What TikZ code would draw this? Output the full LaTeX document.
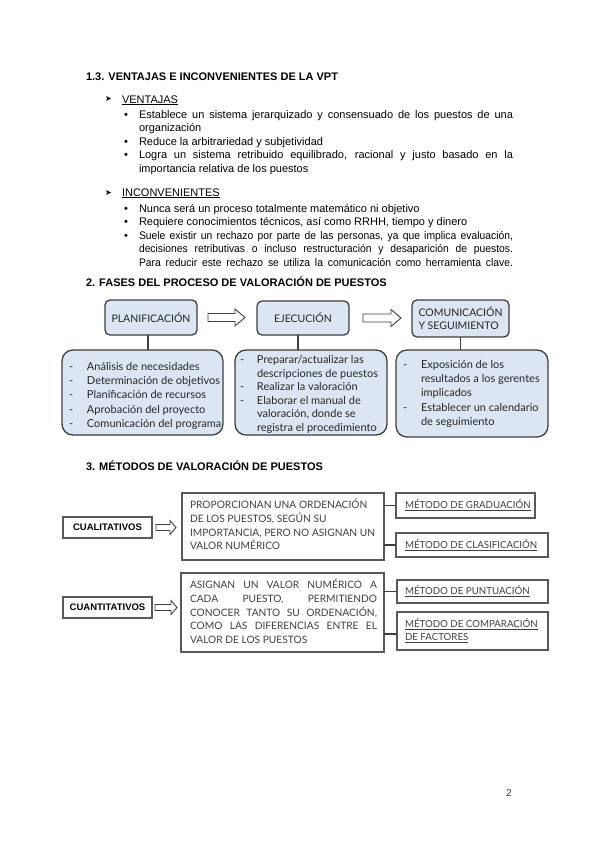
\documentclass[tikz,border=0pt]{standalone}
\usepackage{fontspec}
\setmainfont{Liberation Sans}
\newfontfamily\boxfont{Lato}
\newfontfamily\dejavu{DejaVu Sans}
\usetikzlibrary{calc}
\definecolor{boxblue}{HTML}{DCE6F2}
\definecolor{boxline}{HTML}{3F3F3F}
\definecolor{boxtxt}{HTML}{262626}
\definecolor{mtxt}{HTML}{404040}
\definecolor{mline}{HTML}{595959}
\newcommand{\myjust}[1]{\makebox[374pt][s]{#1}}
\newcommand{\mycond}[1]{\makebox[374pt][s]{\addfontfeature{FakeStretch=0.94}#1}}
\begin{document}
\begin{tikzpicture}[x=1pt,y=-1pt,
  every node/.style={inner sep=0pt,outer sep=0pt},
  head/.style={anchor=base west,font=\fontsize{11}{13}\selectfont\bfseries},
  body/.style={anchor=base west,font=\fontsize{11}{13.5}\selectfont},
  arr/.style={anchor=base west,font=\dejavu\fontsize{8}{9}\selectfont},
  phasebox/.style={draw=boxline,line width=1.3pt,fill=boxblue,rounded corners=5pt,
    font=\boxfont\fontsize{10.5}{13}\selectfont,text=boxtxt,align=left},
  listbox/.style={draw=boxline,line width=1.3pt,fill=boxblue,rounded corners=11pt},
  listtxt/.style={anchor=base west,font=\boxfont\fontsize{11}{14.2}\selectfont,text=boxtxt},
  link/.style={draw=boxline,line width=1.6pt},
  harrow/.style={draw=boxline,line width=0.9pt,fill=white,line join=miter},
  mbox/.style={draw=mline,line width=1.2pt,fill=white},
  mtext/.style={anchor=base west,font=\boxfont\fontsize{10.2}{13.75}\selectfont,text=mtxt},
  mtitle/.style={anchor=west,font=\boxfont\fontsize{9.7}{12}\selectfont,text=mtxt,align=left},
  kind/.style={font=\fontsize{9.5}{11}\selectfont\bfseries,text=black},
  mlink/.style={draw=boxline,line width=1.4pt},
]
\useasboundingbox (0,0) rectangle (599,848);
\fill[white] (0,0) rectangle (599,848);

% ---------- Section 1.3 ----------
\node[head] (h13) at (86,81) {1.3. VENTAJAS E INCONVENIENTES DE LA VPT};

\node[arr] (av) at (105,102) {➤};
\node[body] (vt) at (122,103) {\underline{VENTAJAS}};
\node[body] (vb1) at (124,118) {•};
\node[body] (v1a) at (139,118) {\myjust{Establece un sistema jerarquizado y consensuado de los puestos de una}};
\node[body] (v1b) at (139,131.5) {organización};
\node[body] (vb2) at (124,145) {•};
\node[body] (v2) at (139,145) {Reduce la arbitrariedad y subjetividad};
\node[body] (vb3) at (124,158.5) {•};
\node[body] (v3a) at (139,158.5) {\myjust{Logra un sistema retribuido equilibrado, racional y justo basado en la}};
\node[body] (v3b) at (139,172) {importancia relativa de los puestos};

\node[arr] (ai) at (105,195) {➤};
\node[body] (it) at (122,196) {\underline{INCONVENIENTES}};
\node[body] (ib1) at (124,212) {•};
\node[body] (i1) at (139,212) {Nunca será un proceso totalmente matemático ni objetivo};
\node[body] (ib2) at (124,225.5) {•};
\node[body] (i2) at (139,225.5) {Requiere conocimientos técnicos, así como RRHH, tiempo y dinero};
\node[body] (ib3) at (124,239) {•};
\node[body] (i3a) at (139,239) {\mycond{Suele existir un rechazo por parte de las personas, ya que implica evaluación,}};
\node[body] (i3b) at (139,252.5) {\mycond{decisiones retributivas o incluso restructuración y desaparición de puestos.}};
\node[body] (i3c) at (139,266) {\mycond{Para reducir este rechazo se utiliza la comunicación como herramienta clave.}};

% ---------- Section 2 ----------
\node[head] (h2) at (86,286) {2. FASES DEL PROCESO DE VALORACIÓN DE PUESTOS};

\node[phasebox,minimum width=92pt,minimum height=35pt] (p1) at (151,317.5) {PLANIFICACIÓN};
\node[phasebox,minimum width=92pt,minimum height=34pt] (p2) at (303,318) {EJECUCIÓN};
\node[phasebox,minimum width=97pt,minimum height=37pt] (p3) at (460.5,318.5) {COMUNICACIÓN\\Y SEGUIMIENTO};

\draw[harrow] ($(p1.east)+(11,-4)$) -- ++(27,0) -- ++(0,-4.5) -- ++(10,8.5) -- ++(-10,8.5) -- ++(0,-4.5) -- ++(-27,0) -- cycle;
\draw[harrow] ($(p2.east)+(14,-4)$) -- ++(28,0) -- ++(0,-4.5) -- ++(10,8.5) -- ++(-10,8.5) -- ++(0,-4.5) -- ++(-28,0) -- cycle;

\node[listbox,minimum width=161pt,minimum height=85pt] (l1) at (142.5,392.5) {};
\node[listbox,minimum width=152pt,minimum height=85pt] (l2) at (311,392.5) {};
\node[listbox,minimum width=152pt,minimum height=87pt] (l3) at (472,393.5) {};

\draw[link] ([xshift=-3pt]p1.south) -- ([xshift=-3pt]p1.south |- l1.north);
\draw[link] ([xshift=-5pt]p2.south) -- ([xshift=-5pt]p2.south |- l2.north);
\draw[link] (p3.south) -- (p3.south |- l3.north);

\node[listtxt] (t1) at (69,370.5) {\begin{tabular}[t]{@{}p{18pt}@{}l@{}}
-&Análisis de necesidades\\
-&Determinación de objetivos\\
-&Planificación de recursos\\
-&Aprobación del proyecto\\
-&Comunicación del programa
\end{tabular}};
\node[listtxt,font=\boxfont\fontsize{11}{13.6}\selectfont] (t2) at (240,363.5) {\begin{tabular}[t]{@{}p{17pt}@{}l@{}}
-&Preparar/actualizar las\\
&descripciones de puestos\\
-&Realizar la valoración\\
-&Elaborar el manual de\\
&valoración, donde se\\
&registra el procedimiento
\end{tabular}};
\node[listtxt] (t3) at (403,368.5) {\begin{tabular}[t]{@{}p{18pt}@{}l@{}}
-&Exposición de los\\
&resultados a los gerentes\\
&implicados\\
-&Establecer un calendario\\
&de seguimiento
\end{tabular}};

% ---------- Section 3 ----------
\node[head] (h3) at (86,470) {3. MÉTODOS DE VALORACIÓN DE PUESTOS};

\node[mbox,kind,minimum width=89pt,minimum height=21pt] (cual) at (107.5,527.5) {CUALITATIVOS};
\node[mbox,minimum width=202pt,minimum height=67pt] (big1) at (283,526.5) {};
\node[mtext] (b1t) at (190,508.5) {\begin{tabular}[t]{@{}l@{}}
PROPORCIONAN UNA ORDENACIÓN\\
DE LOS PUESTOS, SEGÚN SU\\
IMPORTANCIA, PERO NO ASIGNAN UN\\
VALOR NUMÉRICO
\end{tabular}};
\draw[harrow] ($(cual.east)+(4,-3)$) -- ++(14,0) -- ++(0,-4) -- ++(6,7) -- ++(-6,7) -- ++(0,-4) -- ++(-14,0) -- cycle;

\node[mbox,minimum width=139pt,minimum height=25pt] (grad) at (465.5,505.5) {};
\node[mtitle] (gradt) at ([xshift=9pt]grad.west) {\underline{MÉTODO DE GRADUACIÓN}};
\node[mbox,minimum width=152pt,minimum height=24pt] (clas) at (472,545) {};
\node[mtitle] (clast) at ([xshift=9pt]clas.west) {\underline{MÉTODO DE CLASIFICACIÓN}};
\draw[mlink] (grad.west -| big1.east) -- (grad.west);
\draw[mlink] (clas.west -| big1.east) -- (clas.west);

\node[mbox,kind,minimum width=89pt,minimum height=21pt] (cuant) at (107.5,607.5) {CUANTITATIVOS};
\node[mbox,minimum width=203pt,minimum height=79pt] (big2) at (282.5,612.5) {};
\node[mtext] (b2t) at (190,588.5) {\begin{tabular}[t]{@{}l@{}}
\makebox[187pt][s]{ASIGNAN UN VALOR NUMÉRICO A}\\
\makebox[187pt][s]{CADA PUESTO, PERMITIENDO}\\
\makebox[187pt][s]{CONOCER TANTO SU ORDENACIÓN,}\\
\makebox[187pt][s]{COMO LAS DIFERENCIAS ENTRE EL}\\
VALOR DE LOS PUESTOS
\end{tabular}};
\draw[harrow] ($(cuant.east)+(3,-3)$) -- ++(16,0) -- ++(0,-4) -- ++(6,7) -- ++(-6,7) -- ++(0,-4) -- ++(-16,0) -- cycle;

\node[mbox,minimum width=151pt,minimum height=23pt] (punt) at (472.5,591.5) {};
\node[mtitle] (puntt) at ([xshift=8pt]punt.west) {\underline{MÉTODO DE PUNTUACIÓN}};
\node[mbox,minimum width=151pt,minimum height=38pt] (comp) at (472.5,631) {};
\node[mtitle] (compt) at ([xshift=8pt]comp.west) {\underline{MÉTODO DE COMPARACIÓN}\\[1pt]\underline{DE FACTORES}};
\draw[mlink] (punt.west -| big2.east) -- (punt.west);
\draw[mlink] ([yshift=-3pt]comp.west -| big2.east) -- ([yshift=-3pt]comp.west);

% page number
\node[anchor=base west,font=\fontsize{10}{12}\selectfont,text=black!75] (pg) at (506,796) {2};
\end{tikzpicture}
\end{document}
